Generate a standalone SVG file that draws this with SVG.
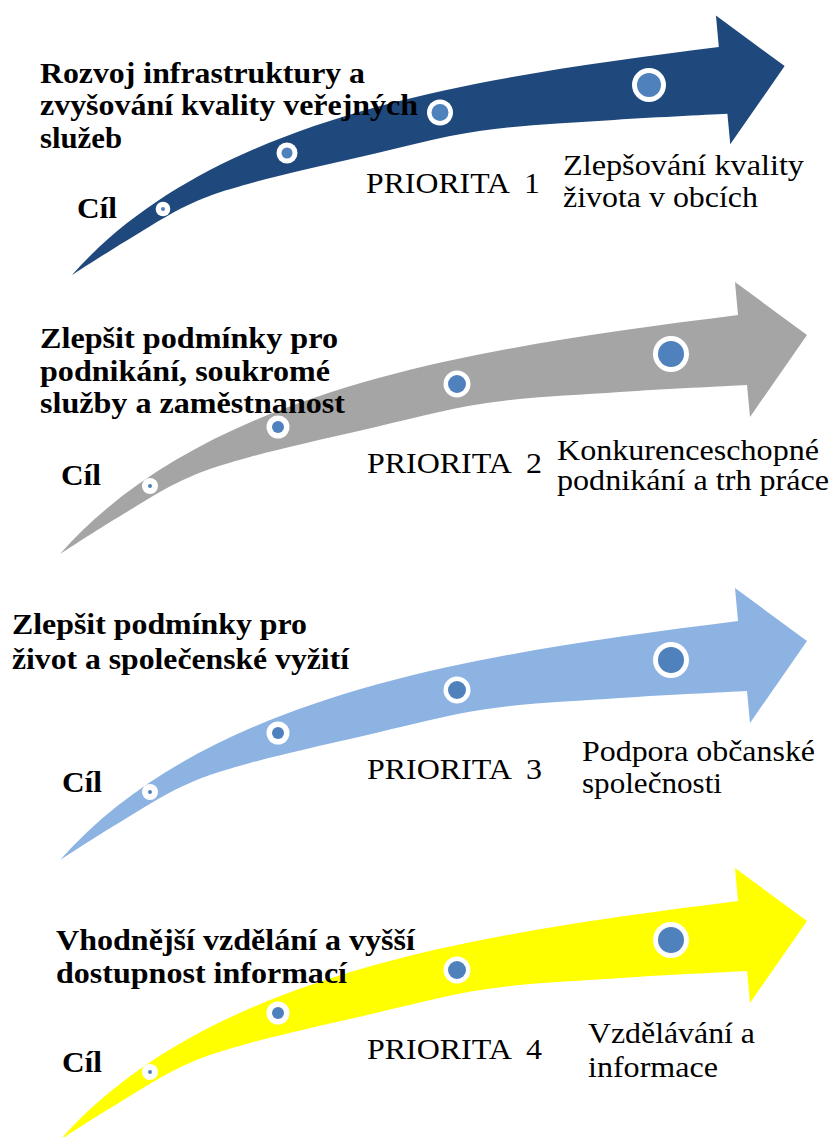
<svg xmlns="http://www.w3.org/2000/svg" width="830" height="1137" viewBox="0 0 830 1137">
<style>
.ring{fill:#ffffff}
.dot{fill:#4F81BD}
text{font-family:"Liberation Serif","Times New Roman",serif;fill:#000000}
.ti{font-weight:bold;font-size:29px}
.cil{font-weight:bold;font-size:29px}
.pr{font-size:30px}
.ds{font-size:30px}
</style>
<defs>
<path id="arrowShape" d="M0,0 C150,-169.5 428,-207.25 678,-239 L675,-272 L747,-219 L690,-137 L687,-169 C665.8,-167.8 603.3,-165 560,-162 C516.7,-159 469.8,-157.3 427,-151 C384.2,-144.7 342.5,-133 303,-124 C263.5,-115 220,-105.3 190,-97 C160,-88.7 145.2,-84.2 123,-74 C100.8,-63.8 77.5,-48.3 57,-36 C36.5,-23.7 9.5,-6 0,0 Z"/>
</defs>
<rect width="830" height="1137" fill="#ffffff"/>

<g id="priorita1">
<use href="#arrowShape" transform="translate(72,275) scale(0.954)" fill="#1F497D"/>
<circle class="ring" cx="163" cy="209" r="7.3"/><circle class="dot" cx="163" cy="209" r="2"/>
<circle class="ring" cx="287" cy="153" r="10.5"/><circle class="dot" cx="287" cy="153" r="5.5"/>
<circle class="ring" cx="440" cy="112.5" r="13"/><circle class="dot" cx="440" cy="112.5" r="8.5"/>
<circle class="ring" cx="649" cy="85" r="17"/><circle class="dot" cx="649" cy="85" r="12"/>
<text class="ti" x="40" y="83" textLength="325" lengthAdjust="spacingAndGlyphs">Rozvoj infrastruktury a</text>
<text class="ti" x="40" y="115" textLength="378" lengthAdjust="spacingAndGlyphs">zvyšování kvality veřejných</text>
<text class="ti" x="40" y="148" textLength="82" lengthAdjust="spacingAndGlyphs">služeb</text>
<text class="cil" x="77" y="218" textLength="40" lengthAdjust="spacingAndGlyphs">Cíl</text>
<text class="pr" x="366" y="193" textLength="174" lengthAdjust="spacingAndGlyphs" xml:space="preserve">PRIORITA  1</text>
<text class="ds" x="563" y="175" textLength="241" lengthAdjust="spacingAndGlyphs">Zlepšování kvality</text>
<text class="ds" x="563" y="207" textLength="195" lengthAdjust="spacingAndGlyphs">života v obcích</text>
</g>

<g id="priorita2">
<use href="#arrowShape" transform="translate(60,554)" fill="#A5A5A5"/>
<circle class="ring" cx="150" cy="486" r="8"/><circle class="dot" cx="150" cy="486" r="2"/>
<circle class="ring" cx="278" cy="427" r="11.5"/><circle class="dot" cx="278" cy="427" r="6"/>
<circle class="ring" cx="457" cy="384" r="13.5"/><circle class="dot" cx="457" cy="384" r="9"/>
<circle class="ring" cx="671" cy="354" r="18"/><circle class="dot" cx="671" cy="354" r="13"/>
<text class="ti" x="40" y="348" textLength="298" lengthAdjust="spacingAndGlyphs">Zlepšit podmínky pro</text>
<text class="ti" x="40" y="380.5" textLength="290" lengthAdjust="spacingAndGlyphs">podnikání, soukromé</text>
<text class="ti" x="40" y="413" textLength="305" lengthAdjust="spacingAndGlyphs">služby a zaměstnanost</text>
<text class="cil" x="61" y="485" textLength="40" lengthAdjust="spacingAndGlyphs">Cíl</text>
<text class="pr" x="367" y="473" textLength="175" lengthAdjust="spacingAndGlyphs" xml:space="preserve">PRIORITA  2</text>
<text class="ds" x="557" y="460" textLength="262" lengthAdjust="spacingAndGlyphs">Konkurenceschopné</text>
<text class="ds" x="557" y="490" textLength="272" lengthAdjust="spacingAndGlyphs">podnikání a trh práce</text>
</g>

<g id="priorita3">
<use href="#arrowShape" transform="translate(60,860)" fill="#8DB3E2"/>
<circle class="ring" cx="150" cy="792" r="8"/><circle class="dot" cx="150" cy="792" r="2"/>
<circle class="ring" cx="278" cy="733" r="11.5"/><circle class="dot" cx="278" cy="733" r="6"/>
<circle class="ring" cx="457" cy="690" r="13.5"/><circle class="dot" cx="457" cy="690" r="9"/>
<circle class="ring" cx="671" cy="660" r="18"/><circle class="dot" cx="671" cy="660" r="13"/>
<text class="ti" x="12" y="634" textLength="295" lengthAdjust="spacingAndGlyphs">Zlepšit podmínky pro</text>
<text class="ti" x="12" y="669" textLength="337" lengthAdjust="spacingAndGlyphs">život a společenské vyžití</text>
<text class="cil" x="62" y="792" textLength="40" lengthAdjust="spacingAndGlyphs">Cíl</text>
<text class="pr" x="367" y="779" textLength="175" lengthAdjust="spacingAndGlyphs" xml:space="preserve">PRIORITA  3</text>
<text class="ds" x="582" y="761" textLength="233" lengthAdjust="spacingAndGlyphs">Podpora občanské</text>
<text class="ds" x="582" y="793" textLength="140" lengthAdjust="spacingAndGlyphs">společnosti</text>
</g>

<g id="priorita4">
<use href="#arrowShape" transform="translate(60,1140)" fill="#FFFF00"/>
<circle class="ring" cx="150" cy="1072" r="8"/><circle class="dot" cx="150" cy="1072" r="2"/>
<circle class="ring" cx="278" cy="1013" r="11.5"/><circle class="dot" cx="278" cy="1013" r="6"/>
<circle class="ring" cx="457" cy="970" r="13.5"/><circle class="dot" cx="457" cy="970" r="9"/>
<circle class="ring" cx="671" cy="940" r="18"/><circle class="dot" cx="671" cy="940" r="13"/>
<text class="ti" x="56" y="950" textLength="359" lengthAdjust="spacingAndGlyphs">Vhodnější vzdělání a vyšší</text>
<text class="ti" x="56" y="983" textLength="291" lengthAdjust="spacingAndGlyphs">dostupnost informací</text>
<text class="cil" x="62" y="1072" textLength="40" lengthAdjust="spacingAndGlyphs">Cíl</text>
<text class="pr" x="367" y="1059" textLength="175" lengthAdjust="spacingAndGlyphs" xml:space="preserve">PRIORITA  4</text>
<text class="ds" x="588" y="1043" textLength="167" lengthAdjust="spacingAndGlyphs">Vzdělávání a</text>
<text class="ds" x="588" y="1077" textLength="130" lengthAdjust="spacingAndGlyphs">informace</text>
</g>
</svg>
